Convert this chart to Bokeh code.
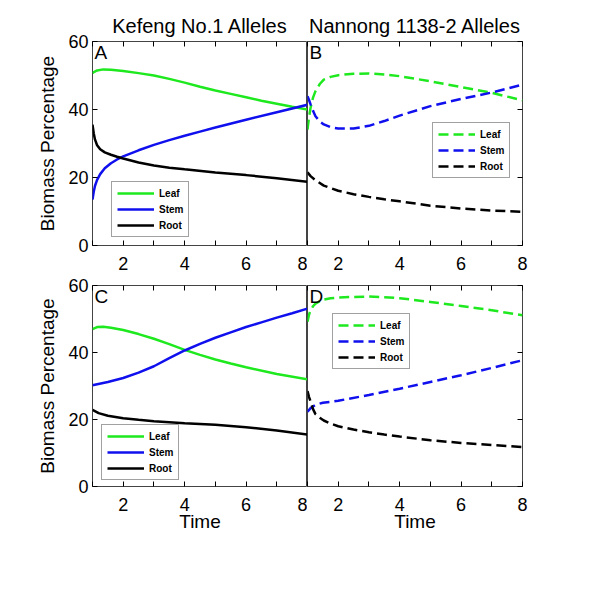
from bokeh.plotting import figure
from bokeh.models import Range1d, FixedTicker, LinearAxis, Legend, LegendItem, Label
from bokeh.layouts import column, row
from bokeh.embed import file_html
from bokeh.resources import INLINE

FONT = "Liberation Sans"
GREEN = "#1ee81e"
BLUE = "#1010ee"
BLACK = "#000000"

# ---------------- data ----------------
# Panel A: Kefeng No.1 alleles
leaf_a_t = [1.0, 1.15, 1.35, 1.6, 2.0, 2.5, 3.0, 3.5, 4.0, 4.5, 5.0, 5.5, 6.0, 6.5, 7.0, 7.5, 8.0]
leaf_a = [50.8, 51.5, 51.8, 51.7, 51.3, 50.7, 50.0, 49.0, 47.9, 46.7, 45.6, 44.6, 43.6, 42.6, 41.7, 40.8, 40.0]
stem_a_t = [1.0, 1.04, 1.08, 1.15, 1.25, 1.4, 1.6, 1.8, 2.0, 2.5, 3.0, 3.5, 4.0, 4.5, 5.0, 6.0, 7.0, 8.0]
stem_a = [13.5, 15.8, 17.5, 19.3, 21.0, 22.7, 24.2, 25.3, 26.2, 28.0, 29.6, 31.0, 32.3, 33.5, 34.7, 37.0, 39.2, 41.4]
root_a_t = [1.0, 1.04, 1.08, 1.15, 1.25, 1.4, 1.6, 1.8, 2.0, 2.5, 3.0, 3.5, 4.0, 5.0, 6.0, 7.0, 8.0]
root_a = [35.5, 33.0, 31.2, 29.5, 28.3, 27.4, 26.7, 26.1, 25.6, 24.4, 23.5, 22.9, 22.4, 21.5, 20.7, 19.8, 18.7]

# Panel B: Nannong 1138-2 alleles
leaf_b_t = [1.0, 1.05, 1.1, 1.18, 1.26, 1.4, 1.53, 1.75, 2.0, 2.5, 3.0, 3.5, 4.0, 5.0, 6.0, 7.0, 8.0]
leaf_b = [34.1, 37.8, 40.5, 43.5, 45.4, 47.5, 48.8, 49.6, 50.1, 50.5, 50.6, 50.3, 49.8, 48.3, 46.6, 44.9, 42.7]
stem_b_t = [1.0, 1.05, 1.1, 1.18, 1.26, 1.4, 1.53, 1.75, 2.0, 2.5, 3.0, 3.5, 4.0, 5.0, 6.0, 7.0, 8.0]
stem_b = [43.9, 42.8, 41.5, 39.6, 38.0, 36.5, 35.6, 34.8, 34.4, 34.4, 35.2, 36.6, 38.2, 41.0, 43.1, 45.0, 47.3]
root_b_t = [1.0, 1.1, 1.26, 1.53, 2.0, 2.5, 3.0, 3.5, 4.0, 5.0, 6.0, 7.0, 8.0]
root_b = [21.5, 20.4, 19.2, 17.6, 16.1, 15.1, 14.3, 13.6, 13.0, 11.7, 10.9, 10.3, 9.9]

# Panel C: Kefeng No.1 alleles
leaf_c_t = [1.0, 1.15, 1.35, 1.6, 2.0, 2.5, 3.0, 3.5, 4.0, 4.5, 5.0, 5.5, 6.0, 7.0, 8.0]
leaf_c = [47.0, 47.6, 47.7, 47.4, 46.7, 45.5, 44.1, 42.5, 40.8, 39.3, 37.9, 36.7, 35.6, 33.6, 32.0]
stem_c_t = [1.0, 1.5, 2.0, 2.5, 3.0, 3.5, 4.0, 4.5, 5.0, 5.5, 6.0, 6.5, 7.0, 7.5, 8.0]
stem_c = [30.2, 31.2, 32.4, 34.0, 35.9, 38.3, 40.6, 42.6, 44.4, 46.0, 47.6, 49.0, 50.4, 51.7, 53.1]
root_c_t = [1.0, 1.2, 1.5, 2.0, 2.5, 3.0, 4.0, 5.0, 6.0, 7.0, 8.0]
root_c = [22.9, 21.9, 21.1, 20.4, 19.9, 19.5, 18.9, 18.4, 17.7, 16.7, 15.5]

# Panel D: Nannong 1138-2 alleles
leaf_d_t = [1.0, 1.05, 1.1, 1.18, 1.26, 1.4, 1.53, 1.75, 2.0, 2.5, 3.0, 3.5, 4.0, 5.0, 6.0, 7.0, 8.0]
leaf_d = [49.2, 51.3, 52.6, 53.8, 54.6, 55.3, 55.8, 56.2, 56.4, 56.6, 56.7, 56.5, 56.2, 55.1, 53.9, 52.6, 51.1]
stem_d_t = [1.0, 1.1, 1.26, 1.5, 2.0, 3.0, 4.0, 5.0, 6.0, 7.0, 8.0]
stem_d = [22.3, 23.4, 24.4, 25.0, 25.6, 27.3, 29.2, 31.2, 33.2, 35.4, 37.7]
root_d_t = [1.0, 1.05, 1.1, 1.18, 1.26, 1.4, 1.53, 1.75, 2.0, 2.5, 3.0, 3.5, 4.0, 5.0, 6.0, 7.0, 8.0]
root_d = [28.5, 26.7, 25.4, 23.1, 21.6, 20.5, 19.7, 18.8, 18.0, 17.0, 16.2, 15.5, 14.9, 13.8, 13.0, 12.4, 11.8]

series_names = ["Leaf", "Stem", "Root"]
series_colors = [GREEN, BLUE, BLACK]
x_major = [2, 4, 6, 8]
x_minor = [1, 3, 5, 7]
y_ticks = [0, 20, 40, 60]
titles = ["Kefeng No.1 Alleles", "Nannong 1138-2 Alleles"]


def style_axis(ax):
    ax.axis_line_color = None
    ax.major_tick_in = 5
    ax.major_tick_out = 0
    ax.minor_tick_in = 5
    ax.minor_tick_out = 0
    ax.major_tick_line_color = "black"
    ax.minor_tick_line_color = "black"
    ax.major_label_text_font = FONT
    ax.major_label_text_font_size = "18px"
    ax.major_label_text_color = "black"
    ax.axis_label_text_font = FONT
    ax.axis_label_text_font_size = "19px"
    ax.axis_label_text_font_style = "normal"
    ax.axis_label_text_color = "black"


def make_panel(letter, data, dashed, legend_xy, title=None, left=True, bottom_label=False,
               frame_w=215, frame_h=204, b_left=0, b_right=0, b_top=41, b_bottom=28):
    kw = dict(frame_width=frame_w, frame_height=frame_h,
              x_range=Range1d(1, 8), y_range=Range1d(0, 60),
              output_backend="svg", toolbar_location=None,
              x_axis_location=None, y_axis_location=None,
              min_border_left=b_left, min_border_right=b_right,
              min_border_top=b_top, min_border_bottom=b_bottom,
              background_fill_color="white", border_fill_color="white")
    if title:
        kw["title"] = title
    p = figure(**kw)
    p.grid.visible = False
    if title:
        p.title.align = "center"
        p.title.text_font = FONT
        p.title.text_font_size = "20px"
        p.title.text_font_style = "normal"
        p.title.text_color = "black"
        p.title.standoff = 10
    p.outline_line_color = "#444444"
    p.outline_line_width = 1

    # bottom axis
    bx = LinearAxis(ticker=FixedTicker(ticks=x_major, minor_ticks=x_minor))
    style_axis(bx)
    bx.major_label_standoff = 11
    if bottom_label:
        bx.axis_label = "Time"
        bx.axis_label_standoff = -3
    p.add_layout(bx, "below")

    # top axis (ticks only)
    tx = LinearAxis(ticker=FixedTicker(ticks=x_major, minor_ticks=x_minor),
                    major_label_overrides={v: "" for v in x_major})
    style_axis(tx)
    tx.major_label_standoff = 0
    p.add_layout(tx, "above")

    ly = LinearAxis(ticker=FixedTicker(ticks=y_ticks, minor_ticks=[]))
    style_axis(ly)
    if left:
        ly.major_label_standoff = 4
        ly.axis_label = "Biomass Percentage"
        ly.axis_label_standoff = 7
        p.add_layout(ly, "left")
    else:
        ly.major_label_overrides = {v: "" for v in y_ticks}
        ly.major_label_standoff = 0
        p.add_layout(ly, "right")

    items = []
    for name, color, (t, v) in zip(series_names, series_colors, data):
        r = p.line(t, v, line_color=color, line_width=2.5,
                   line_dash="10 5" if dashed else "solid")
        items.append(LegendItem(label=name, renderers=[r]))

    legend = Legend(items=items, location=legend_xy,
                    label_text_font=FONT, label_text_font_size="10px",
                    label_text_font_style="bold", label_text_color="black",
                    glyph_width=37, glyph_height=12, label_height=12, label_width=20,
                    spacing=4, padding=5, label_standoff=5, margin=0,
                    border_line_color="#444444", border_line_width=1,
                    background_fill_color="white", background_fill_alpha=1)
    p.add_layout(legend)

    p.add_layout(Label(x=1, y=60, x_offset=2, y_offset=0, text=letter,
                       text_baseline="top", text_align="left",
                       text_font=FONT, text_font_size="19px", text_color="black"))
    return p


pA = make_panel("A", [(leaf_a_t, leaf_a), (stem_a_t, stem_a), (root_a_t, root_a)], False, (19, 8),
                title=titles[0], left=True, frame_w=215, frame_h=204,
                b_left=92, b_right=0, b_top=41, b_bottom=28)
pB = make_panel("B", [(leaf_b_t, leaf_b), (stem_b_t, stem_b), (root_b_t, root_b)], True, (125, 67),
                title=titles[1], left=False, frame_w=215, frame_h=204,
                b_left=0, b_right=62, b_top=41, b_bottom=28)
pC = make_panel("C", [(leaf_c_t, leaf_c), (stem_c_t, stem_c), (root_c_t, root_c)], False, (9, 6),
                left=True, bottom_label=True, frame_w=215, frame_h=201,
                b_left=92, b_right=0, b_top=12, b_bottom=55)
pD = make_panel("D", [(leaf_d_t, leaf_d), (stem_d_t, stem_d), (root_d_t, root_d)], True, (25, 117),
                left=False, bottom_label=True, frame_w=215, frame_h=201,
                b_left=0, b_right=62, b_top=12, b_bottom=55)

layout = column(row(pA, pB), row(pC, pD))

with open("out.html", "w") as f:
    f.write(file_html(layout, INLINE))
